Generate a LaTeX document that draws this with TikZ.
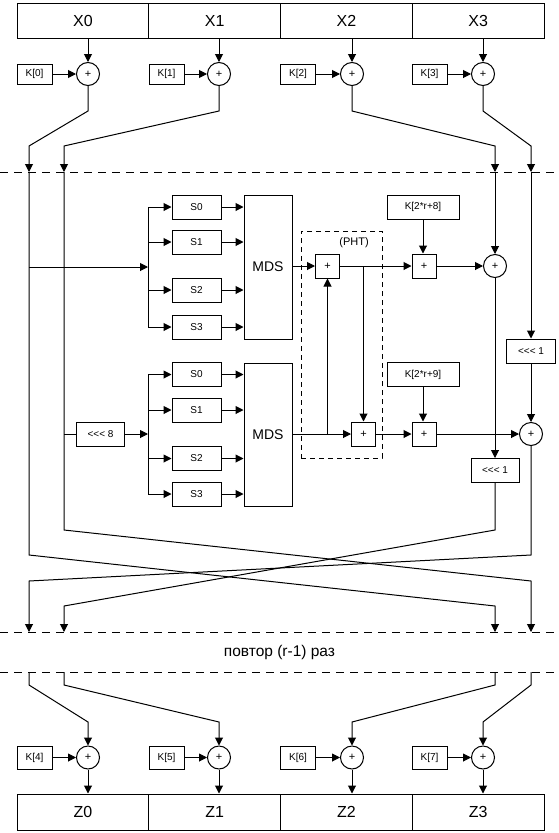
\documentclass[tikz,border=0pt]{standalone}
\usepackage{fontspec}
\setmainfont{Liberation Sans}
\usepackage{tikz}
\usetikzlibrary{arrows.meta, positioning}

\begin{document}
\begin{tikzpicture}[x=1pt, y=-1pt,
    every node/.style={font=\fontsize{10}{12}\selectfont},
    reg/.style={rectangle, draw, line width=1pt, minimum width=131.75pt, minimum height=35pt, inner sep=0pt, font=\fontsize{16}{19}\selectfont},
    key/.style={rectangle, draw, line width=1pt, minimum width=35pt, minimum height=20pt, inner sep=0pt, font=\fontsize{10}{12}\selectfont},
    xor/.style={circle, draw, line width=1pt, minimum size=23pt, inner sep=0pt, font=\fontsize{11}{12}\selectfont},
    addbox/.style={rectangle, draw, line width=1pt, minimum size=24pt, inner sep=0pt, font=\fontsize{11}{12}\selectfont},
    sbox/.style={rectangle, draw, line width=1pt, minimum width=49pt, minimum height=24pt, inner sep=0pt},
    mds/.style={rectangle, draw, line width=1pt, minimum width=48pt, minimum height=144pt, inner sep=0pt, font=\fontsize{14}{16}\selectfont},
    rotbox/.style={rectangle, draw, line width=1pt, minimum width=48pt, minimum height=24pt, inner sep=0pt},
    rkey/.style={rectangle, draw, line width=1pt, minimum width=72pt, minimum height=24pt, inner sep=0pt},
    phtbox/.style={rectangle, draw, dashed, dash pattern=on 5pt off 4pt, line width=1pt, minimum width=81pt, minimum height=227pt, inner sep=0pt},
    flow/.style={-{Triangle[length=8pt, width=8pt]}, line width=1pt},
    wire/.style={line width=1pt},
    sep/.style={dashed, dash pattern=on 8pt off 6pt, line width=1pt},
]
\useasboundingbox (0,0) rectangle (559,833);
% INPUT WHITENING
\node[reg] (x0) at (82.875, 20.5) {X0};
\node[reg] (x1) at (214.625, 20.5) {X1};
\node[reg] (x2) at (346.375, 20.5) {X2};
\node[reg] (x3) at (478.125, 20.5) {X3};
\node[xor] (a0) at (88, 74) {+};
\node[xor] (a1) at (219, 74) {+};
\node[xor] (a2) at (352, 74) {+};
\node[xor] (a3) at (483, 74) {+};
\node[key] (k0) at (34.5, 74) {K[0]};
\node[key] (k1) at (166.5, 74) {K[1]};
\node[key] (k2) at (298, 74) {K[2]};
\node[key] (k3) at (429.5, 74) {K[3]};
\draw[flow] (x0.south -| a0) -- (a0);
\draw[flow] (x1.south -| a1) -- (a1);
\draw[flow] (x2.south -| a2) -- (a2);
\draw[flow] (x3.south -| a3) -- (a3);
\draw[flow] (k0) -- (a0);
\draw[flow] (k1) -- (a1);
\draw[flow] (k2) -- (a2);
\draw[flow] (k3) -- (a3);
\coordinate (r0in) at (29, 172);
\coordinate (r1in) at (64, 172);
\coordinate (r2in) at (495, 172);
\coordinate (r3in) at (531, 172);
\draw[flow] (a0) -- (88, 111) -- (29, 146) -- (r0in);
\draw[flow] (a1) -- (219, 111) -- (64, 146) -- (r1in);
\draw[flow] (a2) -- (352, 111) -- (495, 146) -- (r2in);
\draw[flow] (a3) -- (483, 111) -- (531, 146) -- (r3in);
\draw[sep] (0, 172) -- (559, 172);
% ROUND: UPPER F-BRANCH
\node[sbox] (s0a) at (196.5, 207) {S0};
\node[sbox] (s1a) at (196.5, 242) {S1};
\node[sbox] (s2a) at (196.5, 290) {S2};
\node[sbox] (s3a) at (196.5, 327) {S3};
\node[mds] (mdsa) at (268, 267) {MDS};
\coordinate (fana) at (148, 267);
\draw[flow] (r0in |- fana) -- (fana);
\draw[wire] (s0a -| fana) -- (s3a -| fana);
\draw[flow] (s0a -| fana) -- (s0a);
\draw[flow] (s1a -| fana) -- (s1a);
\draw[flow] (s2a -| fana) -- (s2a);
\draw[flow] (s3a -| fana) -- (s3a);
\draw[flow] (s0a) -- (s0a -| mdsa.west);
\draw[flow] (s1a) -- (s1a -| mdsa.west);
\draw[flow] (s2a) -- (s2a -| mdsa.west);
\draw[flow] (s3a) -- (s3a -| mdsa.west);
% ROUND: LOWER F-BRANCH
\node[rotbox] (rot8) at (100.5, 434) {<{}<{}< 8};
\node[sbox] (s0b) at (196.5, 374.5) {S0};
\node[sbox] (s1b) at (196.5, 410) {S1};
\node[sbox] (s2b) at (196.5, 458.5) {S2};
\node[sbox] (s3b) at (196.5, 494) {S3};
\node[mds, minimum height=143pt] (mdsb) at (268, 434.5) {MDS};
\coordinate (fanb) at (148, 434);
\draw[wire] (r1in |- rot8) -- (rot8);
\draw[flow] (rot8) -- (fanb);
\draw[wire] (s0b -| fanb) -- (s3b -| fanb);
\draw[flow] (s0b -| fanb) -- (s0b);
\draw[flow] (s1b -| fanb) -- (s1b);
\draw[flow] (s2b -| fanb) -- (s2b);
\draw[flow] (s3b -| fanb) -- (s3b);
\draw[flow] (s0b) -- (s0b -| mdsb.west);
\draw[flow] (s1b) -- (s1b -| mdsb.west);
\draw[flow] (s2b) -- (s2b -| mdsb.west);
\draw[flow] (s3b) -- (s3b -| mdsb.west);
% PHT AND ROUND KEYS
\node[phtbox] (pht) at (341.5, 344.5) {};
\node[font=\fontsize{11}{13}\selectfont] (phtlab) at (354, 243) {(PHT)};
\node[addbox] (p0) at (327.5, 266) {+};
\node[addbox] (p1) at (363.5, 434) {+};
\node[rkey] (ka) at (423, 207) {K[2*r+8]};
\node[rkey] (kb) at (423, 374.5) {K[2*r+9]};
\node[addbox] (ta) at (424, 266) {+};
\node[addbox] (tb) at (424, 434) {+};
\node[xor] (xa) at (495, 266) {+};
\node[xor] (xb) at (531, 434) {+};
\node[rotbox, minimum width=49pt] (rot1a) at (531, 351) {<{}<{}< 1};
\node[rotbox] (rot1b) at (495, 470.5) {<{}<{}< 1};
\draw[flow] (mdsa.east |- p0) -- (p0);
\draw[flow] (mdsb.east |- p1) -- (p1);
\draw[flow] (p1 -| p0) -- (p0);
\draw[flow] (p0 -| p1) -- (p1);
\draw[flow] (p0) -- (ta);
\draw[flow] (p1) -- (tb);
\draw[flow] (ka) -- (ka |- ta.north);
\draw[flow] (kb) -- (kb |- tb.north);
\draw[flow] (ta) -- (xa);
\draw[flow] (tb) -- (xb);
\draw[flow] (r2in) -- (xa);
\draw[flow] (xa) -- (rot1b);
\draw[flow] (r3in) -- (rot1a);
\draw[flow] (rot1a) -- (xb);
% SWAP
\coordinate (o0) at (29, 632);
\coordinate (o1) at (64, 632);
\coordinate (o2) at (495, 632);
\coordinate (o3) at (531, 632);
\draw[flow] (r0in) -- (29, 555) -- (495, 606) -- (o2);
\draw[flow] (xb) -- (531, 555) -- (29, 581) -- (o0);
\draw[flow] (r1in) -- (64, 530) -- (531, 581) -- (o3);
\draw[flow] (rot1b) -- (495, 530) -- (64, 606) -- (o1);
\draw[sep] (0, 632) -- (559, 632);
\node[font=\fontsize{15.5}{18}\selectfont] (rep) at (279.5, 652) {повтор (r-1) раз};
\draw[sep] (0, 672) -- (559, 672);
% OUTPUT WHITENING
\coordinate (i0) at (29, 672);
\coordinate (i1) at (64, 672);
\coordinate (i2) at (495, 672);
\coordinate (i3) at (531, 672);
\node[xor] (b0) at (88, 757.5) {+};
\node[xor] (b1) at (219, 757.5) {+};
\node[xor] (b2) at (352, 757.5) {+};
\node[xor] (b3) at (483, 757.5) {+};
\node[key, minimum height=23pt] (k4) at (34.5, 757.5) {K[4]};
\node[key, minimum height=23pt] (k5) at (166.5, 757.5) {K[5]};
\node[key, minimum height=23pt] (k6) at (298, 757.5) {K[6]};
\node[key, minimum height=23pt] (k7) at (429.5, 757.5) {K[7]};
\node[reg, minimum height=36pt] (z0) at (82.875, 812) {Z0};
\node[reg, minimum height=36pt] (z1) at (214.625, 812) {Z1};
\node[reg, minimum height=36pt] (z2) at (346.375, 812) {Z2};
\node[reg, minimum height=36pt] (z3) at (478.125, 812) {Z3};
\draw[flow] (i0) -- (29, 685) -- (88, 722) -- (b0);
\draw[flow] (i1) -- (64, 685) -- (219, 722) -- (b1);
\draw[flow] (i2) -- (495, 685) -- (352, 722) -- (b2);
\draw[flow] (i3) -- (531, 685) -- (483, 722) -- (b3);
\draw[flow] (k4) -- (b0);
\draw[flow] (k5) -- (b1);
\draw[flow] (k6) -- (b2);
\draw[flow] (k7) -- (b3);
\draw[flow] (b0) -- (b0 |- z0.north);
\draw[flow] (b1) -- (b1 |- z1.north);
\draw[flow] (b2) -- (b2 |- z2.north);
\draw[flow] (b3) -- (b3 |- z3.north);
\end{tikzpicture}
\end{document}
